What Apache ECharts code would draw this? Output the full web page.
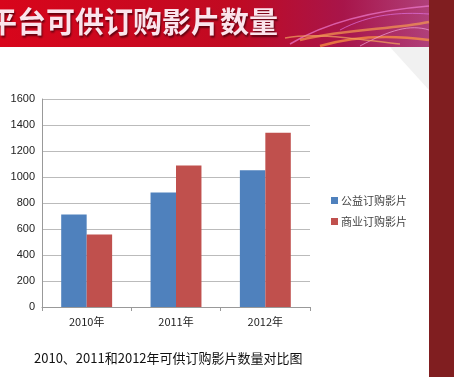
<!DOCTYPE html>
<html>
<head>
<meta charset="utf-8">
<script src="https://cdn.jsdelivr.net/npm/echarts@6/dist/echarts.min.js"></script>
<style>
    html, body {margin: 0; padding: 0; background: #fff;}
    #app {width: 454px; height: 377px;}
</style>
</head>
<body>
<div id="app"></div>
<script>
// 数据
const years = ['2010年', '2011年', '2012年'];
const publicFilms = [712, 881, 1051];
const commercialFilms = [558, 1089, 1341];
const seriesNames = ['公益订购影片', '商业订购影片'];
const bannerTitle = '平台可供订购影片数量';
const caption = '2010、2011和2012年可供订购影片数量对比图';

const chart = echarts.init(document.getElementById('app'), null, {renderer: 'canvas'});

// 右上角装饰曲线
const streak = (x1, y1, cx1, cy1, cx2, cy2, x2, y2, color, w) => ({
    type: 'bezierCurve',
    silent: true,
    shape: {x1, y1, cpx1: cx1, cpy1: cy1, cpx2: cx2, cpy2: cy2, x2, y2},
    style: {stroke: color, lineWidth: w, fill: null, opacity: 0.7}
});

chart.setOption({
    backgroundColor: '#ffffff',
    animation: false,
    color: ['#4f81bd', '#c0504d'],
    graphic: [
        {type: 'rect', silent: true, z: 0, shape: {x: 429, y: 0, width: 25, height: 377}, style: {fill: '#801e20'}},
        {
            type: 'rect', silent: true, z: 0,
            shape: {x: 0, y: 0, width: 429, height: 47},
            style: {
                fill: new echarts.graphic.LinearGradient(0, 0, 1, 0, [
                    {offset: 0, color: '#d8051b'},
                    {offset: 0.55, color: '#c00a22'},
                    {offset: 0.8, color: '#a8154a'},
                    {offset: 1, color: '#b0407a'}
                ])
            }
        },
        streak(290, 44, 330, 20, 380, 10, 429, 6, '#f07ad0', 1.5),
        streak(300, 40, 350, 28, 390, 30, 429, 22, '#f59a50', 2.5),
        streak(320, 46, 360, 34, 400, 36, 429, 40, '#ff9a40', 2.5),
        streak(340, 30, 370, 14, 400, 12, 429, 14, '#e070e0', 1),
        streak(360, 46, 390, 30, 410, 24, 429, 30, '#f3a2d8', 1),
        streak(285, 38, 320, 32, 360, 40, 400, 44, '#f4a460', 1.5),
        {
            type: 'polygon', silent: true, z: 0,
            shape: {points: [[390, 47], [429, 47], [429, 90]]},
            style: {fill: '#f1f1f1'}
        },
        {
            type: 'text', silent: true, z: 2,
            style: {
                x: -12, y: 22, text: bannerTitle,
                font: 'bold 29px "Noto Sans CJK SC"',
                fill: '#fbe4ec',
                textShadowColor: 'rgba(70,0,10,0.8)',
                textShadowBlur: 2,
                textShadowOffsetX: 1,
                textShadowOffsetY: 2,
                verticalAlign: 'middle'
            }
        },
        {
            type: 'text', silent: true,
            style: {
                x: 34, y: 358, text: caption,
                font: '13px "Noto Sans CJK SC"', fill: '#111',
                verticalAlign: 'middle'
            }
        }
    ],
    legend: {
        orient: 'vertical',
        left: 326,
        top: 190,
        itemWidth: 7,
        itemHeight: 7,
        itemGap: 10,
        icon: 'rect',
        textStyle: {fontSize: 11, color: '#444', fontFamily: 'Noto Sans CJK SC', padding: [0, 0, 0, -2]}
    },
    grid: {left: 42, right: 144, top: 99, bottom: 70, containLabel: false},
    xAxis: {
        type: 'category',
        data: years,
        axisLine: {lineStyle: {color: '#999'}},
        axisTick: {show: true, length: 4, lineStyle: {color: '#999'}},
        axisLabel: {color: '#222', fontSize: 11, margin: 9, fontFamily: 'Noto Sans CJK SC'}
    },
    yAxis: {
        type: 'value',
        min: 0,
        max: 1600,
        interval: 200,
        axisLine: {show: true, lineStyle: {color: '#999'}},
        axisTick: {show: false},
        axisLabel: {color: '#222', fontSize: 11, margin: 7, fontFamily: 'Arial', formatter: v => String(v)},
        splitLine: {lineStyle: {color: '#bbb'}}
    },
    series: [
        {name: seriesNames[0], type: 'bar', data: publicFilms, barGap: '0%', barCategoryGap: '43%'},
        {name: seriesNames[1], type: 'bar', data: commercialFilms, barGap: '0%', barCategoryGap: '43%'}
    ]
});
</script>
</body>
</html>
